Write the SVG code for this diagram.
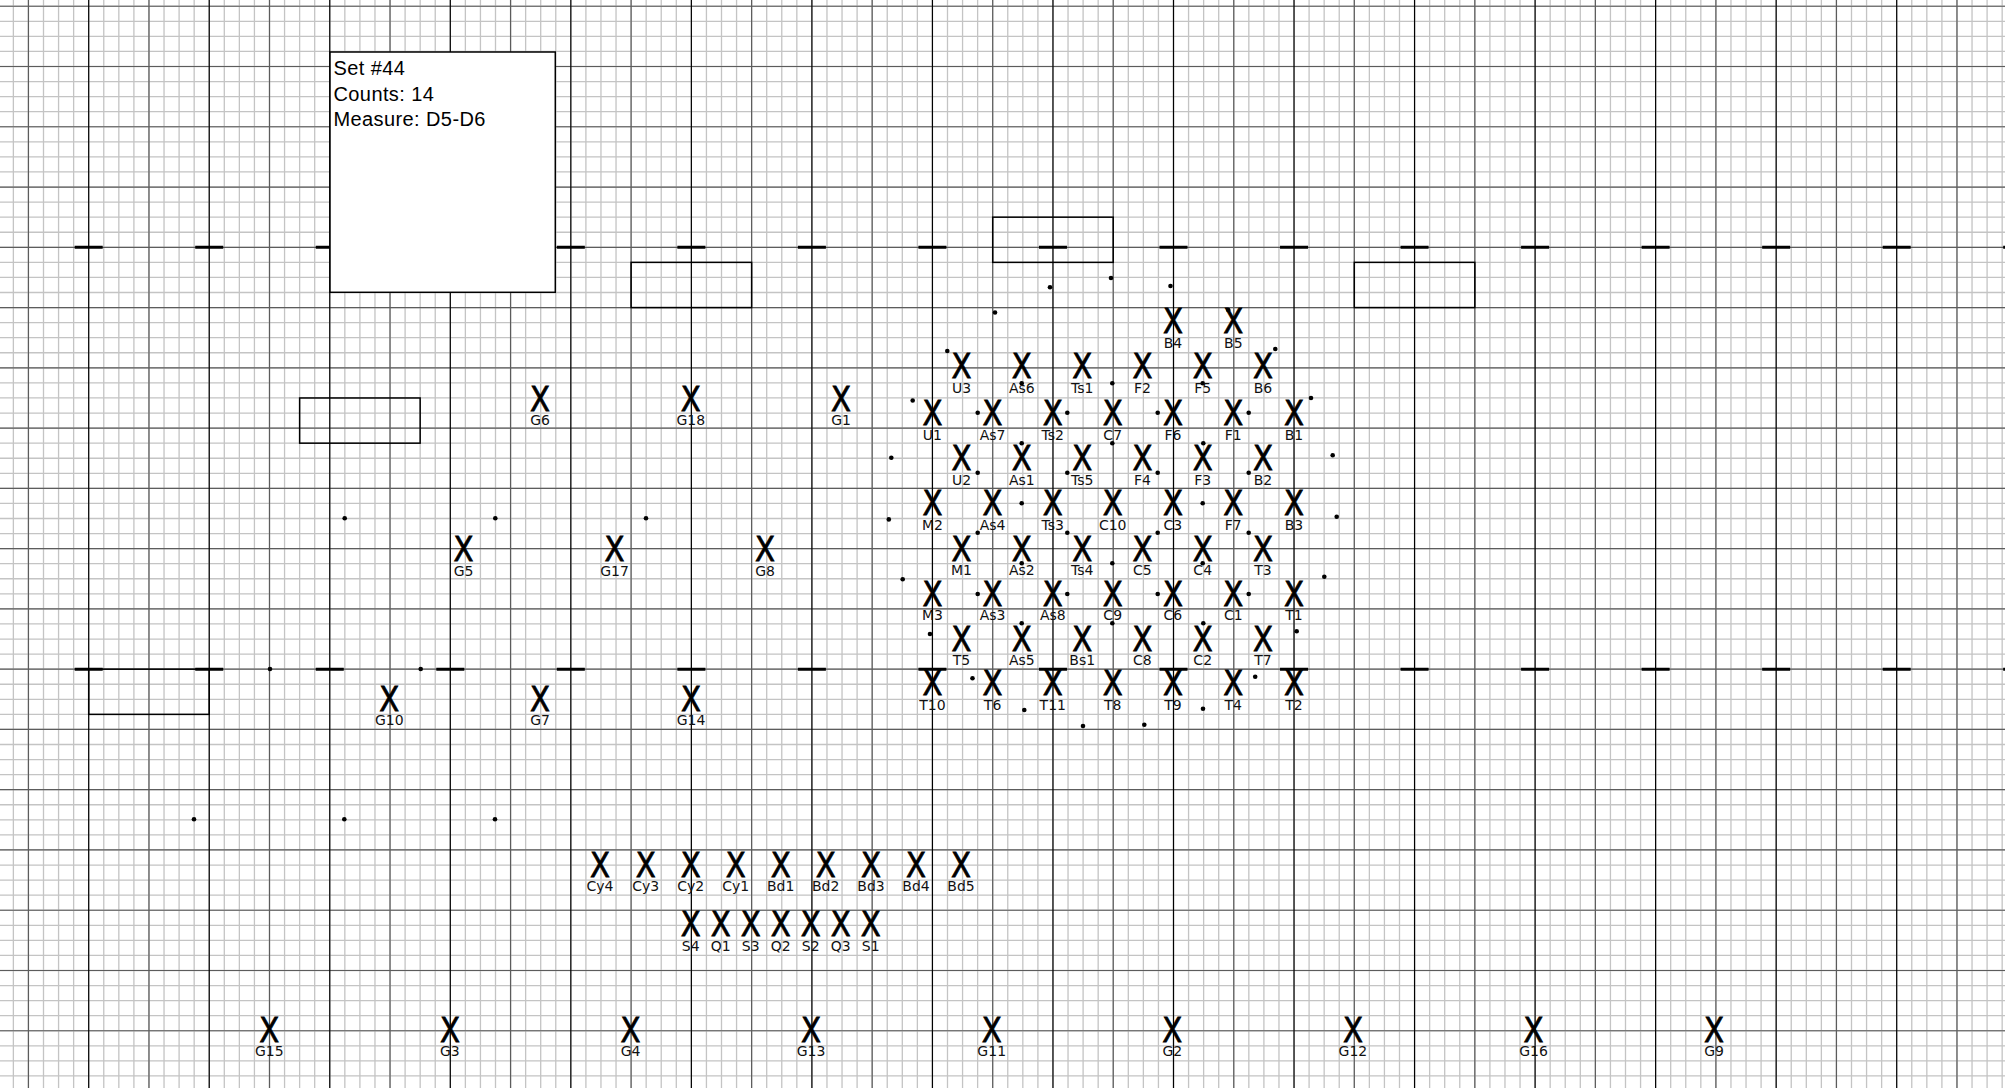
<svg xmlns="http://www.w3.org/2000/svg" xmlns:xlink="http://www.w3.org/1999/xlink" width="2011" height="1088" viewBox="0 0 2011 1088">
<style>
.f{stroke:#c4c4c4;stroke-width:1.3;fill:none}
.m{stroke:#5c5c5c;stroke-width:1.2;fill:none}
.y{stroke:#000;stroke-width:1.2;fill:none}
.h{stroke:#000;stroke-width:3;fill:none}
.bx{fill:none;stroke:#000;stroke-width:1.5}
.x{font-family:"DejaVu Sans",sans-serif;font-size:34px;text-anchor:middle;fill:#000;stroke:#000;stroke-width:0.8}
.l{font-family:"DejaVu Sans",sans-serif;font-size:14px;text-anchor:middle;fill:#111}
.t{font-family:"Liberation Sans",Arial,sans-serif;font-size:20px;letter-spacing:0.4px;fill:#000}
.d{fill:#000}
</style>
<defs>
<path id="vf" class="f" d="M0 0V1088M15.067 0V1088M30.133 0V1088M45.2 0V1088M60.267 0V1088M75.333 0V1088M90.4 0V1088M105.467 0V1088"/>
<path id="hf" class="f" d="M0 0H2005M0 15.067H2005M0 30.133H2005M0 45.2H2005"/>
</defs>
<rect x="0" y="0" width="2011" height="1088" fill="#fff"/>
<g id="grid">
<use xlink:href="#vf" x="-31.83"/><use xlink:href="#vf" x="88.7"/><use xlink:href="#vf" x="209.23"/><use xlink:href="#vf" x="329.77"/><use xlink:href="#vf" x="450.3"/><use xlink:href="#vf" x="570.83"/><use xlink:href="#vf" x="691.37"/><use xlink:href="#vf" x="811.9"/><use xlink:href="#vf" x="932.43"/><use xlink:href="#vf" x="1052.97"/><use xlink:href="#vf" x="1173.5"/><use xlink:href="#vf" x="1294.03"/><use xlink:href="#vf" x="1414.57"/><use xlink:href="#vf" x="1535.1"/><use xlink:href="#vf" x="1655.63"/><use xlink:href="#vf" x="1776.17"/><use xlink:href="#vf" x="1896.7"/>
<use xlink:href="#hf" y="6.23"/><use xlink:href="#hf" y="66.5"/><use xlink:href="#hf" y="126.77"/><use xlink:href="#hf" y="187.03"/><use xlink:href="#hf" y="247.3"/><use xlink:href="#hf" y="307.57"/><use xlink:href="#hf" y="367.83"/><use xlink:href="#hf" y="428.1"/><use xlink:href="#hf" y="488.37"/><use xlink:href="#hf" y="548.63"/><use xlink:href="#hf" y="608.9"/><use xlink:href="#hf" y="669.17"/><use xlink:href="#hf" y="729.43"/><use xlink:href="#hf" y="789.7"/><use xlink:href="#hf" y="849.97"/><use xlink:href="#hf" y="910.23"/><use xlink:href="#hf" y="970.5"/><use xlink:href="#hf" y="1030.77"/>
<path class="m" d="M0 6.23H2005M0 66.5H2005M0 126.77H2005M0 187.03H2005M0 247.3H2005M0 307.57H2005M0 367.83H2005M0 428.1H2005M0 488.37H2005M0 548.63H2005M0 608.9H2005M0 669.17H2005M0 729.43H2005M0 789.7H2005M0 849.97H2005M0 910.23H2005M0 970.5H2005M0 1030.77H2005"/>
<path class="m" d="M28.43 0V1088M148.97 0V1088M269.5 0V1088M390.03 0V1088M510.57 0V1088M631.1 0V1088M751.63 0V1088M872.17 0V1088M992.7 0V1088M1113.23 0V1088M1233.77 0V1088M1354.3 0V1088M1474.83 0V1088M1595.37 0V1088M1715.9 0V1088M1836.43 0V1088M1956.97 0V1088"/>
<path class="y" d="M88.7 0V1088M209.23 0V1088M329.77 0V1088M450.3 0V1088M570.83 0V1088M691.37 0V1088M811.9 0V1088M932.43 0V1088M1052.97 0V1088M1173.5 0V1088M1294.03 0V1088M1414.57 0V1088M1535.1 0V1088M1655.63 0V1088M1776.17 0V1088M1896.7 0V1088"/>
<path class="h" d="M74.7 247.3h28M195.23 247.3h28M315.77 247.3h28M436.3 247.3h28M556.83 247.3h28M677.37 247.3h28M797.9 247.3h28M918.43 247.3h28M1038.97 247.3h28M1159.5 247.3h28M1280.03 247.3h28M1400.57 247.3h28M1521.1 247.3h28M1641.63 247.3h28M1762.17 247.3h28M1882.7 247.3h28M2003.2 247.3h1.8M74.7 669.17h28M195.23 669.17h28M315.77 669.17h28M436.3 669.17h28M556.83 669.17h28M677.37 669.17h28M797.9 669.17h28M918.43 669.17h28M1038.97 669.17h28M1159.5 669.17h28M1280.03 669.17h28M1400.57 669.17h28M1521.1 669.17h28M1641.63 669.17h28M1762.17 669.17h28M1882.7 669.17h28M2003.2 669.17h1.8"/>
</g>
<g id="boxes">
<rect class="bx" x="299.63" y="397.97" width="120.53" height="45.2"/>
<rect class="bx" x="631.1" y="262.37" width="120.53" height="45.2"/>
<rect class="bx" x="992.7" y="217.17" width="120.53" height="45.2"/>
<rect class="bx" x="1354.3" y="262.37" width="120.53" height="45.2"/>
<rect class="bx" x="88.7" y="669.17" width="120.53" height="45.2"/>
</g>
<g id="info">
<rect x="330" y="52" width="225.3" height="240.3" fill="#fff" stroke="#000" stroke-width="1.5"/>
<text class="t" x="333.5" y="75">Set #44</text>
<text class="t" x="333.5" y="100.5">Counts: 14</text>
<text class="t" x="333.5" y="126">Measure: D5-D6</text>
</g>
<g id="dots" class="d">
<circle cx="1050" cy="287.3" r="2.3"/><circle cx="1111" cy="278" r="2.3"/><circle cx="1170.5" cy="286" r="2.3"/><circle cx="995" cy="312.5" r="2.3"/><circle cx="947.3" cy="351" r="2.3"/><circle cx="1275.3" cy="349" r="2.3"/><circle cx="1228.3" cy="310" r="2.3"/><circle cx="912.7" cy="400.5" r="2.3"/><circle cx="1311" cy="398" r="2.3"/><circle cx="891.3" cy="457.8" r="2.3"/><circle cx="1332.7" cy="455.3" r="2.3"/><circle cx="888.8" cy="519.4" r="2.3"/><circle cx="1336.7" cy="516.7" r="2.3"/><circle cx="902.7" cy="579.3" r="2.3"/><circle cx="1324.3" cy="576.7" r="2.3"/><circle cx="930" cy="634" r="2.3"/><circle cx="1296.7" cy="631.3" r="2.3"/><circle cx="972.5" cy="678.3" r="2.3"/><circle cx="1255.2" cy="676.7" r="2.3"/><circle cx="1024.3" cy="710" r="2.3"/><circle cx="1203" cy="708.7" r="2.3"/><circle cx="1083" cy="726" r="2.3"/><circle cx="1144.3" cy="724.7" r="2.3"/>
<circle cx="1021.7" cy="383.3" r="2.3"/><circle cx="1112.3" cy="383.3" r="2.3"/><circle cx="1202.7" cy="383.3" r="2.3"/>
<circle cx="977.7" cy="412.7" r="2.3"/><circle cx="1067.3" cy="412.7" r="2.3"/><circle cx="1157.7" cy="412.7" r="2.3"/><circle cx="1248.7" cy="412.7" r="2.3"/>
<circle cx="1021.7" cy="443.3" r="2.3"/><circle cx="1112.3" cy="443.3" r="2.3"/><circle cx="1203.3" cy="443.3" r="2.3"/>
<circle cx="977.7" cy="472.7" r="2.3"/><circle cx="1067.3" cy="472.7" r="2.3"/><circle cx="1157.7" cy="472.7" r="2.3"/><circle cx="1248.7" cy="472.7" r="2.3"/>
<circle cx="1021.7" cy="503.3" r="2.3"/><circle cx="1202.7" cy="503.3" r="2.3"/>
<circle cx="977.7" cy="532.7" r="2.3"/><circle cx="1067.3" cy="532.7" r="2.3"/><circle cx="1157.7" cy="532.7" r="2.3"/><circle cx="1248.7" cy="532.7" r="2.3"/>
<circle cx="1021.7" cy="563.3" r="2.3"/><circle cx="1112.3" cy="563.3" r="2.3"/><circle cx="1202.7" cy="563.3" r="2.3"/>
<circle cx="977.7" cy="594" r="2.3"/><circle cx="1067.3" cy="594" r="2.3"/><circle cx="1157.7" cy="594" r="2.3"/><circle cx="1248.7" cy="594" r="2.3"/>
<circle cx="1021.7" cy="623.3" r="2.3"/><circle cx="1112.3" cy="623.3" r="2.3"/><circle cx="1203.3" cy="623.3" r="2.3"/>
<circle cx="344.7" cy="518.3" r="2.3"/><circle cx="495.3" cy="518.3" r="2.3"/><circle cx="646" cy="518.3" r="2.3"/><circle cx="270" cy="669" r="2.3"/><circle cx="420.7" cy="669" r="2.3"/><circle cx="194" cy="819.3" r="2.3"/><circle cx="344.3" cy="819.3" r="2.3"/><circle cx="495" cy="819.3" r="2.3"/>
</g>
<g id="performers">
<g id="B4" transform="translate(1172.9,320.7)"><text class="x" y="12.4" textLength="20" lengthAdjust="spacingAndGlyphs">X</text><text class="l" y="27">B4</text></g>
<g id="B5" transform="translate(1233.3,320.7)"><text class="x" y="12.4" textLength="20" lengthAdjust="spacingAndGlyphs">X</text><text class="l" y="27">B5</text></g>
<g id="U3" transform="translate(961.5,366)"><text class="x" y="12.4" textLength="20" lengthAdjust="spacingAndGlyphs">X</text><text class="l" y="27">U3</text></g>
<g id="As6" transform="translate(1021.8,366)"><text class="x" y="12.4" textLength="20" lengthAdjust="spacingAndGlyphs">X</text><text class="l" y="27">As6</text></g>
<g id="Ts1" transform="translate(1082.2,366)"><text class="x" y="12.4" textLength="20" lengthAdjust="spacingAndGlyphs">X</text><text class="l" y="27">Ts1</text></g>
<g id="F2" transform="translate(1142.4,366)"><text class="x" y="12.4" textLength="20" lengthAdjust="spacingAndGlyphs">X</text><text class="l" y="27">F2</text></g>
<g id="F5" transform="translate(1202.7,366)"><text class="x" y="12.4" textLength="20" lengthAdjust="spacingAndGlyphs">X</text><text class="l" y="27">F5</text></g>
<g id="B6" transform="translate(1262.9,366)"><text class="x" y="12.4" textLength="20" lengthAdjust="spacingAndGlyphs">X</text><text class="l" y="27">B6</text></g>
<g id="U1" transform="translate(932.4,412.7)"><text class="x" y="12.4" textLength="20" lengthAdjust="spacingAndGlyphs">X</text><text class="l" y="27">U1</text></g>
<g id="As7" transform="translate(992.6,412.7)"><text class="x" y="12.4" textLength="20" lengthAdjust="spacingAndGlyphs">X</text><text class="l" y="27">As7</text></g>
<g id="Ts2" transform="translate(1052.8,412.7)"><text class="x" y="12.4" textLength="20" lengthAdjust="spacingAndGlyphs">X</text><text class="l" y="27">Ts2</text></g>
<g id="C7" transform="translate(1112.7,412.7)"><text class="x" y="12.4" textLength="20" lengthAdjust="spacingAndGlyphs">X</text><text class="l" y="27">C7</text></g>
<g id="F6" transform="translate(1172.9,412.7)"><text class="x" y="12.4" textLength="20" lengthAdjust="spacingAndGlyphs">X</text><text class="l" y="27">F6</text></g>
<g id="F1" transform="translate(1233.3,412.7)"><text class="x" y="12.4" textLength="20" lengthAdjust="spacingAndGlyphs">X</text><text class="l" y="27">F1</text></g>
<g id="B1" transform="translate(1294,412.7)"><text class="x" y="12.4" textLength="20" lengthAdjust="spacingAndGlyphs">X</text><text class="l" y="27">B1</text></g>
<g id="U2" transform="translate(961.5,458)"><text class="x" y="12.4" textLength="20" lengthAdjust="spacingAndGlyphs">X</text><text class="l" y="27">U2</text></g>
<g id="As1" transform="translate(1021.8,458)"><text class="x" y="12.4" textLength="20" lengthAdjust="spacingAndGlyphs">X</text><text class="l" y="27">As1</text></g>
<g id="Ts5" transform="translate(1082.2,458)"><text class="x" y="12.4" textLength="20" lengthAdjust="spacingAndGlyphs">X</text><text class="l" y="27">Ts5</text></g>
<g id="F4" transform="translate(1142.4,458)"><text class="x" y="12.4" textLength="20" lengthAdjust="spacingAndGlyphs">X</text><text class="l" y="27">F4</text></g>
<g id="F3" transform="translate(1202.7,458)"><text class="x" y="12.4" textLength="20" lengthAdjust="spacingAndGlyphs">X</text><text class="l" y="27">F3</text></g>
<g id="B2" transform="translate(1262.9,458)"><text class="x" y="12.4" textLength="20" lengthAdjust="spacingAndGlyphs">X</text><text class="l" y="27">B2</text></g>
<g id="M2" transform="translate(932.4,502.9)"><text class="x" y="12.4" textLength="20" lengthAdjust="spacingAndGlyphs">X</text><text class="l" y="27">M2</text></g>
<g id="As4" transform="translate(992.6,502.9)"><text class="x" y="12.4" textLength="20" lengthAdjust="spacingAndGlyphs">X</text><text class="l" y="27">As4</text></g>
<g id="Ts3" transform="translate(1052.8,502.9)"><text class="x" y="12.4" textLength="20" lengthAdjust="spacingAndGlyphs">X</text><text class="l" y="27">Ts3</text></g>
<g id="C10" transform="translate(1112.7,502.9)"><text class="x" y="12.4" textLength="20" lengthAdjust="spacingAndGlyphs">X</text><text class="l" y="27">C10</text></g>
<g id="C3" transform="translate(1172.9,502.9)"><text class="x" y="12.4" textLength="20" lengthAdjust="spacingAndGlyphs">X</text><text class="l" y="27">C3</text></g>
<g id="F7" transform="translate(1233.3,502.9)"><text class="x" y="12.4" textLength="20" lengthAdjust="spacingAndGlyphs">X</text><text class="l" y="27">F7</text></g>
<g id="B3" transform="translate(1294,502.9)"><text class="x" y="12.4" textLength="20" lengthAdjust="spacingAndGlyphs">X</text><text class="l" y="27">B3</text></g>
<g id="M1" transform="translate(961.5,548.3)"><text class="x" y="12.4" textLength="20" lengthAdjust="spacingAndGlyphs">X</text><text class="l" y="27">M1</text></g>
<g id="As2" transform="translate(1021.8,548.3)"><text class="x" y="12.4" textLength="20" lengthAdjust="spacingAndGlyphs">X</text><text class="l" y="27">As2</text></g>
<g id="Ts4" transform="translate(1082.2,548.3)"><text class="x" y="12.4" textLength="20" lengthAdjust="spacingAndGlyphs">X</text><text class="l" y="27">Ts4</text></g>
<g id="C5" transform="translate(1142.4,548.3)"><text class="x" y="12.4" textLength="20" lengthAdjust="spacingAndGlyphs">X</text><text class="l" y="27">C5</text></g>
<g id="C4" transform="translate(1202.7,548.3)"><text class="x" y="12.4" textLength="20" lengthAdjust="spacingAndGlyphs">X</text><text class="l" y="27">C4</text></g>
<g id="T3" transform="translate(1262.9,548.3)"><text class="x" y="12.4" textLength="20" lengthAdjust="spacingAndGlyphs">X</text><text class="l" y="27">T3</text></g>
<g id="M3" transform="translate(932.4,593.3)"><text class="x" y="12.4" textLength="20" lengthAdjust="spacingAndGlyphs">X</text><text class="l" y="27">M3</text></g>
<g id="As3" transform="translate(992.6,593.3)"><text class="x" y="12.4" textLength="20" lengthAdjust="spacingAndGlyphs">X</text><text class="l" y="27">As3</text></g>
<g id="As8" transform="translate(1052.8,593.3)"><text class="x" y="12.4" textLength="20" lengthAdjust="spacingAndGlyphs">X</text><text class="l" y="27">As8</text></g>
<g id="C9" transform="translate(1112.7,593.3)"><text class="x" y="12.4" textLength="20" lengthAdjust="spacingAndGlyphs">X</text><text class="l" y="27">C9</text></g>
<g id="C6" transform="translate(1172.9,593.3)"><text class="x" y="12.4" textLength="20" lengthAdjust="spacingAndGlyphs">X</text><text class="l" y="27">C6</text></g>
<g id="C1" transform="translate(1233.3,593.3)"><text class="x" y="12.4" textLength="20" lengthAdjust="spacingAndGlyphs">X</text><text class="l" y="27">C1</text></g>
<g id="T1" transform="translate(1294,593.3)"><text class="x" y="12.4" textLength="20" lengthAdjust="spacingAndGlyphs">X</text><text class="l" y="27">T1</text></g>
<g id="T5" transform="translate(961.5,638.3)"><text class="x" y="12.4" textLength="20" lengthAdjust="spacingAndGlyphs">X</text><text class="l" y="27">T5</text></g>
<g id="As5" transform="translate(1021.8,638.3)"><text class="x" y="12.4" textLength="20" lengthAdjust="spacingAndGlyphs">X</text><text class="l" y="27">As5</text></g>
<g id="Bs1" transform="translate(1082.2,638.3)"><text class="x" y="12.4" textLength="20" lengthAdjust="spacingAndGlyphs">X</text><text class="l" y="27">Bs1</text></g>
<g id="C8" transform="translate(1142.4,638.3)"><text class="x" y="12.4" textLength="20" lengthAdjust="spacingAndGlyphs">X</text><text class="l" y="27">C8</text></g>
<g id="C2" transform="translate(1202.7,638.3)"><text class="x" y="12.4" textLength="20" lengthAdjust="spacingAndGlyphs">X</text><text class="l" y="27">C2</text></g>
<g id="T7" transform="translate(1262.9,638.3)"><text class="x" y="12.4" textLength="20" lengthAdjust="spacingAndGlyphs">X</text><text class="l" y="27">T7</text></g>
<g id="T10" transform="translate(932.4,682.7)"><text class="x" y="12.4" textLength="20" lengthAdjust="spacingAndGlyphs">X</text><text class="l" y="27">T10</text></g>
<g id="T6" transform="translate(992.6,682.7)"><text class="x" y="12.4" textLength="20" lengthAdjust="spacingAndGlyphs">X</text><text class="l" y="27">T6</text></g>
<g id="T11" transform="translate(1052.8,682.7)"><text class="x" y="12.4" textLength="20" lengthAdjust="spacingAndGlyphs">X</text><text class="l" y="27">T11</text></g>
<g id="T8" transform="translate(1112.7,682.7)"><text class="x" y="12.4" textLength="20" lengthAdjust="spacingAndGlyphs">X</text><text class="l" y="27">T8</text></g>
<g id="T9" transform="translate(1172.9,682.7)"><text class="x" y="12.4" textLength="20" lengthAdjust="spacingAndGlyphs">X</text><text class="l" y="27">T9</text></g>
<g id="T4" transform="translate(1233.3,682.7)"><text class="x" y="12.4" textLength="20" lengthAdjust="spacingAndGlyphs">X</text><text class="l" y="27">T4</text></g>
<g id="T2" transform="translate(1294,682.7)"><text class="x" y="12.4" textLength="20" lengthAdjust="spacingAndGlyphs">X</text><text class="l" y="27">T2</text></g>
<g id="G6" transform="translate(540,398.3)"><text class="x" y="12.4" textLength="20" lengthAdjust="spacingAndGlyphs">X</text><text class="l" y="27">G6</text></g>
<g id="G18" transform="translate(690.8,398.3)"><text class="x" y="12.4" textLength="20" lengthAdjust="spacingAndGlyphs">X</text><text class="l" y="27">G18</text></g>
<g id="G1" transform="translate(841,398.3)"><text class="x" y="12.4" textLength="20" lengthAdjust="spacingAndGlyphs">X</text><text class="l" y="27">G1</text></g>
<g id="G5" transform="translate(463.5,549)"><text class="x" y="12.4" textLength="20" lengthAdjust="spacingAndGlyphs">X</text><text class="l" y="27">G5</text></g>
<g id="G17" transform="translate(614.5,549)"><text class="x" y="12.4" textLength="20" lengthAdjust="spacingAndGlyphs">X</text><text class="l" y="27">G17</text></g>
<g id="G8" transform="translate(765,549)"><text class="x" y="12.4" textLength="20" lengthAdjust="spacingAndGlyphs">X</text><text class="l" y="27">G8</text></g>
<g id="G10" transform="translate(389.3,698.3)"><text class="x" y="12.4" textLength="20" lengthAdjust="spacingAndGlyphs">X</text><text class="l" y="27">G10</text></g>
<g id="G7" transform="translate(540,698.3)"><text class="x" y="12.4" textLength="20" lengthAdjust="spacingAndGlyphs">X</text><text class="l" y="27">G7</text></g>
<g id="G14" transform="translate(691,698.3)"><text class="x" y="12.4" textLength="20" lengthAdjust="spacingAndGlyphs">X</text><text class="l" y="27">G14</text></g>
<g id="Cy4" transform="translate(600,864.3)"><text class="x" y="12.4" textLength="20" lengthAdjust="spacingAndGlyphs">X</text><text class="l" y="27">Cy4</text></g>
<g id="Cy3" transform="translate(645.7,864.3)"><text class="x" y="12.4" textLength="20" lengthAdjust="spacingAndGlyphs">X</text><text class="l" y="27">Cy3</text></g>
<g id="Cy2" transform="translate(690.7,864.3)"><text class="x" y="12.4" textLength="20" lengthAdjust="spacingAndGlyphs">X</text><text class="l" y="27">Cy2</text></g>
<g id="Cy1" transform="translate(735.7,864.3)"><text class="x" y="12.4" textLength="20" lengthAdjust="spacingAndGlyphs">X</text><text class="l" y="27">Cy1</text></g>
<g id="Bd1" transform="translate(780.7,864.3)"><text class="x" y="12.4" textLength="20" lengthAdjust="spacingAndGlyphs">X</text><text class="l" y="27">Bd1</text></g>
<g id="Bd2" transform="translate(825.7,864.3)"><text class="x" y="12.4" textLength="20" lengthAdjust="spacingAndGlyphs">X</text><text class="l" y="27">Bd2</text></g>
<g id="Bd3" transform="translate(871,864.3)"><text class="x" y="12.4" textLength="20" lengthAdjust="spacingAndGlyphs">X</text><text class="l" y="27">Bd3</text></g>
<g id="Bd4" transform="translate(916,864.3)"><text class="x" y="12.4" textLength="20" lengthAdjust="spacingAndGlyphs">X</text><text class="l" y="27">Bd4</text></g>
<g id="Bd5" transform="translate(961,864.3)"><text class="x" y="12.4" textLength="20" lengthAdjust="spacingAndGlyphs">X</text><text class="l" y="27">Bd5</text></g>
<g id="S4" transform="translate(690.7,924)"><text class="x" y="12.4" textLength="20" lengthAdjust="spacingAndGlyphs">X</text><text class="l" y="27">S4</text></g>
<g id="Q1" transform="translate(720.7,924)"><text class="x" y="12.4" textLength="20" lengthAdjust="spacingAndGlyphs">X</text><text class="l" y="27">Q1</text></g>
<g id="S3" transform="translate(750.7,924)"><text class="x" y="12.4" textLength="20" lengthAdjust="spacingAndGlyphs">X</text><text class="l" y="27">S3</text></g>
<g id="Q2" transform="translate(780.7,924)"><text class="x" y="12.4" textLength="20" lengthAdjust="spacingAndGlyphs">X</text><text class="l" y="27">Q2</text></g>
<g id="S2" transform="translate(810.7,924)"><text class="x" y="12.4" textLength="20" lengthAdjust="spacingAndGlyphs">X</text><text class="l" y="27">S2</text></g>
<g id="Q3" transform="translate(840.7,924)"><text class="x" y="12.4" textLength="20" lengthAdjust="spacingAndGlyphs">X</text><text class="l" y="27">Q3</text></g>
<g id="S1" transform="translate(870.7,924)"><text class="x" y="12.4" textLength="20" lengthAdjust="spacingAndGlyphs">X</text><text class="l" y="27">S1</text></g>
<g id="G15" transform="translate(269.3,1029.3)"><text class="x" y="12.4" textLength="20" lengthAdjust="spacingAndGlyphs">X</text><text class="l" y="27">G15</text></g>
<g id="G3" transform="translate(449.9,1029.3)"><text class="x" y="12.4" textLength="20" lengthAdjust="spacingAndGlyphs">X</text><text class="l" y="27">G3</text></g>
<g id="G4" transform="translate(630.5,1029.3)"><text class="x" y="12.4" textLength="20" lengthAdjust="spacingAndGlyphs">X</text><text class="l" y="27">G4</text></g>
<g id="G13" transform="translate(811.1,1029.3)"><text class="x" y="12.4" textLength="20" lengthAdjust="spacingAndGlyphs">X</text><text class="l" y="27">G13</text></g>
<g id="G11" transform="translate(991.7,1029.3)"><text class="x" y="12.4" textLength="20" lengthAdjust="spacingAndGlyphs">X</text><text class="l" y="27">G11</text></g>
<g id="G2" transform="translate(1172.3,1029.3)"><text class="x" y="12.4" textLength="20" lengthAdjust="spacingAndGlyphs">X</text><text class="l" y="27">G2</text></g>
<g id="G12" transform="translate(1352.9,1029.3)"><text class="x" y="12.4" textLength="20" lengthAdjust="spacingAndGlyphs">X</text><text class="l" y="27">G12</text></g>
<g id="G16" transform="translate(1533.5,1029.3)"><text class="x" y="12.4" textLength="20" lengthAdjust="spacingAndGlyphs">X</text><text class="l" y="27">G16</text></g>
<g id="G9" transform="translate(1714.1,1029.3)"><text class="x" y="12.4" textLength="20" lengthAdjust="spacingAndGlyphs">X</text><text class="l" y="27">G9</text></g>
</g>
<g id="connectors"></g>
</svg>
